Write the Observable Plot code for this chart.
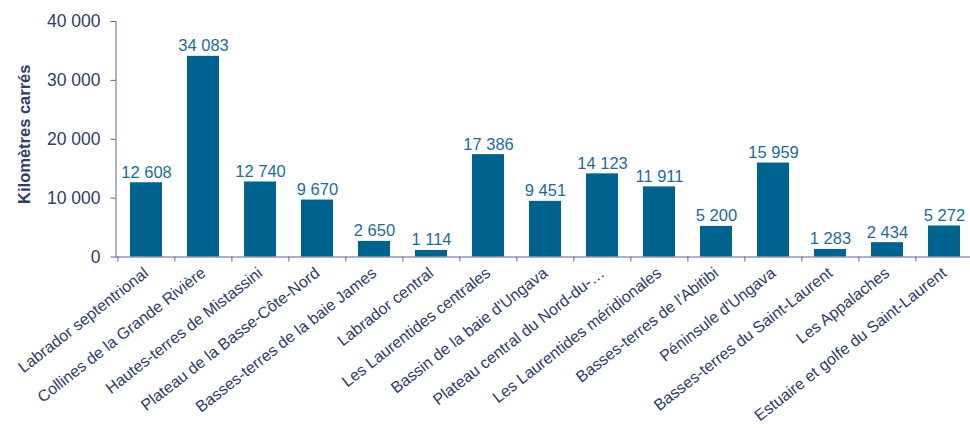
<!DOCTYPE html>
<html>
<head>
<meta charset="utf-8">
<script src="https://cdn.jsdelivr.net/npm/d3@7"></script>
<script src="https://cdn.jsdelivr.net/npm/@observablehq/plot@0.6"></script>
<style>
  html, body { margin: 0; padding: 0; background: #fff; overflow: hidden; }
  #chart svg { display: block; }
  #chart svg text { font-size: 16.5px; }
  #chart svg g[aria-label="y-axis tick label"] text { font-size: 17.5px; }
  #chart svg g[aria-label="x-axis tick label"] text { font-size: 16px; }
</style>
</head>
<body>
<div id="chart"></div>
<script>
const categories = [
  "Labrador septentrional",
  "Collines de la Grande Rivière",
  "Hautes-terres de Mistassini",
  "Plateau de la Basse-Côte-Nord",
  "Basses-terres de la baie James",
  "Labrador central",
  "Les Laurentides centrales",
  "Bassin de la baie d'Ungava",
  "Plateau central du Nord-du-…",
  "Les Laurentides méridionales",
  "Basses-terres de l'Abitibi",
  "Péninsule d'Ungava",
  "Basses-terres du Saint-Laurent",
  "Les Appalaches",
  "Estuaire et golfe du Saint-Laurent"
];
const values = [12608, 34083, 12740, 9670, 2650, 1114, 17386, 9451, 14123, 11911, 5200, 15959, 1283, 2434, 5272];
const yTicks = [0, 10000, 20000, 30000, 40000];
const yTitle = "Kilomètres carrés";

const data = categories.map((c, i) => ({category: c, value: values[i]}));
const fr = d3.formatLocale({decimal: ",", thousands: " ", grouping: [3], currency: ["", ""]});
const fmt = fr.format(",d");

const navy = "#2f3d6b";
const barColor = "#00628f";
const labelColor = "#1d6b99";
const axisColor = "#5a6590";
const step = (974 - 115.5) / categories.length;

const chart = Plot.plot({
  width: 970,
  height: 428,
  marginTop: 21,
  marginBottom: 171.5,
  marginLeft: 115.5,
  marginRight: 0,
  style: {fontFamily: "'Liberation Sans', Arial, sans-serif", fontSize: "16px", color: navy, background: "#fff"},
  x: {domain: categories, range: [115.5, 974], paddingInner: 0.44, paddingOuter: 0.22},
  y: {domain: [0, 40000], range: [256.5, 21]},
  marks: [
    Plot.barY(data, {x: "category", y: "value", fill: barColor}),
    Plot.text(data, {x: "category", y: "value", text: d => fmt(d.value), lineAnchor: "bottom", dy: -5, fill: labelColor}),
    Plot.axisY({ticks: yTicks, tickFormat: fmt, tickSize: 5, tickPadding: 10.5, label: null, stroke: axisColor, fill: navy}),
    Plot.axisX({tickSize: 5, text: null, dx: -step / 2, stroke: axisColor, label: null}),
    Plot.axisX({tickSize: 0, tickPadding: 14, tickRotate: -38, label: null, fill: navy}),
    Plot.frame({anchor: "left", stroke: axisColor}),
    Plot.frame({anchor: "bottom", stroke: axisColor}),
    Plot.text([yTitle], {frameAnchor: "left", text: d => d, rotate: -90, textAnchor: "middle", dx: -91.5, dy: -5, fontWeight: "bold", fill: navy})
  ]
});
document.getElementById("chart").appendChild(chart);
</script>
</body>
</html>
